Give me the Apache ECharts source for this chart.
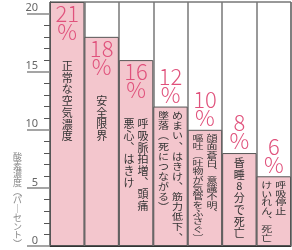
<!DOCTYPE html>
<html>
<head>
<meta charset="utf-8">
<script src="https://cdn.jsdelivr.net/npm/echarts@6.0.0/dist/echarts.min.js"></script>
<style>
html, body { margin: 0; padding: 0; background: #fff; }
#main { width: 292px; height: 250px; }
</style>
</head>
<body>
<div id="main"></div>
<script>
// データ
var categories = ['21%', '18%', '16%', '12%', '10%', '8%', '6%'];
var oxygenLevels = [21, 18, 16, 12, 10, 8, 6];
var symptomsMain = ['正常な空気濃度', '安全限界', '呼吸脈拍増、頭痛', 'めまい、はきけ、筋力低下、', '顔面蒼白、意識不明、', '昏睡8分で死亡', '呼吸停止'];
var symptomsSub = ['', '', '悪心、はきけ', '墜落(死につながる)', '嘔吐(吐物が気管をふさぐ)', '', 'けいれん、死亡'];
var majorTicks = [0, 5, 10, 15, 20];
var minorTicks = [1, 2, 3, 4, 6, 7, 8, 9, 11, 12, 13, 14, 16, 17, 18, 19];
var axisTitle = '酸素濃度(パーセント)';

var JP_FONT = '"Noto Sans CJK JP", sans-serif';
var LINE_H = 11.7;

// 縦書き用に文字を置き換える
function toVertical(s) {
    var map = {'、': '︑', '(': '︵', ')': '︶', 'ー': '｜'};
    return Array.from(s).map(function (c) { return map[c] || c; }).join('\n');
}

function renderText(params, api) {
    var i = params.dataIndex;
    var v = oxygenLevels[i];
    var top = api.coord([i, v]);
    var bottom = api.coord([i, 0])[1];
    var cx = top[0];
    var inside = v >= 16;
    var y0 = inside ? top[1] + 58 : top[1] + 4;
    var n = Math.max(Array.from(symptomsMain[i]).length, Array.from(symptomsSub[i]).length);
    var avail = bottom - 4 - y0;
    var s = Math.min(1, avail / (n * LINE_H));
    var children = [];
    var cols = symptomsSub[i] ? [[symptomsMain[i], cx + 7], [symptomsSub[i], cx - 7]] : [[symptomsMain[i], cx]];
    cols.forEach(function (c) {
        children.push({
            type: 'text',
            x: c[1],
            y: y0,
            scaleY: s,
            style: {
                text: toVertical(c[0]),
                fill: '#333',
                font: '11px ' + JP_FONT,
                align: 'center',
                verticalAlign: 'top',
                lineHeight: LINE_H
            }
        });
    });
    return {type: 'group', children: children};
}

//基于准备好的dom，初始化echarts实例
var myChart = echarts.init(document.getElementById('main'));
myChart.setOption({
    animation: false,
    grid: {
        left: 50, right: 1, top: 2, bottom: 4,
        show: true,
        backgroundColor: '#fff',
        borderColor: '#333',
        borderWidth: 1
    },
    xAxis: {
        type: 'category',
        data: categories,
        axisLabel: {show: false},
        axisTick: {show: false},
        axisLine: {show: true, lineStyle: {color: '#333'}},
        splitLine: {show: true, interval: 0, lineStyle: {color: '#777', width: 1.5}}
    },
    yAxis: [{
        type: 'value',
        min: 0,
        max: 21,
        position: 'left',
        axisLine: {show: true, lineStyle: {color: '#333'}},
        axisTick: {show: true, customValues: majorTicks, length: 23, lineStyle: {color: '#888', width: 1.5}},
        axisLabel: {
            customValues: majorTicks,
            color: '#666',
            fontSize: 11,
            fontFamily: 'Noto Sans',
            align: 'right',
            verticalAlign: 'bottom',
            margin: 12
        },
        splitLine: {show: false}
    }, {
        type: 'value',
        min: 0,
        max: 21,
        position: 'left',
        axisLine: {show: false},
        axisTick: {show: true, customValues: minorTicks, length: 6, lineStyle: {color: '#555'}},
        axisLabel: {show: false},
        splitLine: {show: false}
    }],
    graphic: [{
        type: 'text',
        left: 13,
        top: 152,
        style: {
            text: toVertical(axisTitle),
            fill: '#888',
            font: '9px ' + JP_FONT,
            lineHeight: 8.7
        }
    }],
    series: [{
        type: 'bar',
        barWidth: '100%',
        data: oxygenLevels.map(function (v) {
            return {value: v, label: {position: v >= 16 ? 'insideTop' : 'top'}};
        }),
        itemStyle: {color: '#f3c6cd', borderColor: '#555', borderWidth: 1},
        label: {
            show: true,
            formatter: '{c}\n%',
            color: '#e0527c',
            fontSize: 22,
            lineHeight: 18,
            fontFamily: '"Noto Sans CJK JP", "Noto Sans"',
            fontWeight: 300,
            distance: 3
        }
    }, {
        type: 'custom',
        z: 5,
        data: oxygenLevels.map(function (v, i) { return [i, v]; }),
        encode: {x: 0, y: 1},
        renderItem: renderText
    }]
});
</script>
</body>
</html>
